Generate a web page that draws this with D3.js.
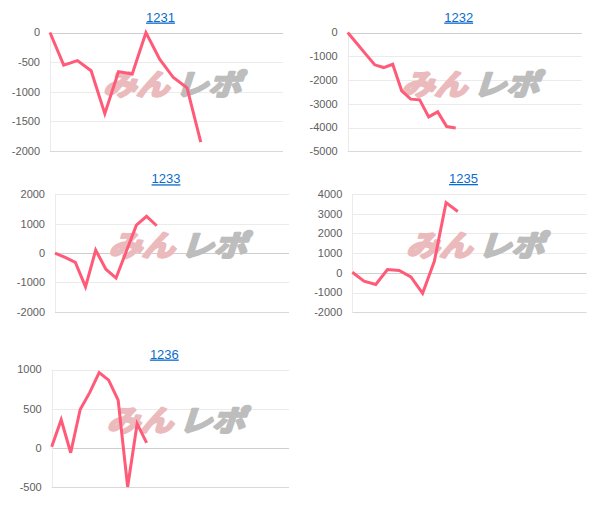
<!DOCTYPE html>
<html>
<head>
<meta charset="utf-8">
<script src="https://cdn.jsdelivr.net/npm/d3@7"></script>
<style>
  body { margin: 0; background: #fff; }
  svg { display: block; }
</style>
</head>
<body>
<div id="chart"></div>
<script>
//chart data, one small array per machine
var names = ["1231", "1232", "1233", "1235", "1236"];

var v1231 = [0, -550, -475, -645, -1370, -660, -700, 0, -450, -760, -935, -1850];
var v1232 = [0, -455, -910, -1360, -1475, -1335, -2455, -2805, -2835, -3550, -3340, -3960, -4015];
var v1233 = [0, -150, -320, -1150, 100, -550, -850, 50, 950, 1250, 930];
var v1235 = [30, -420, -590, 170, 120, -200, -1040, 590, 3560, 3110];
var v1236 = [15, 360, -60, 490, 705, 960, 865, 610, -495, 310, 65];

//number of x labels each chart has (only the first few have values)
var slotCounts = [18, 27, 24, 21, 26];

//y axis ranges and tick labels
var yDomains = [[-2000, 0], [-5000, 0], [-2000, 2000], [-2000, 4000], [-500, 1000]];
var yTicks = [
    [0, -500, -1000, -1500, -2000],
    [0, -1000, -2000, -3000, -4000, -5000],
    [2000, 1000, 0, -1000, -2000],
    [4000, 3000, 2000, 1000, 0, -1000, -2000],
    [1000, 500, 0, -500]
];

var series = [v1231, v1232, v1233, v1235, v1236];

//plot areas of the five panels (left, right, top, bottom)
var boxes = [
    [50, 283, 32.5, 151],
    [347.7, 581.7, 32.5, 151.3],
    [55, 289, 194.3, 311.8],
    [352.3, 586.7, 194, 312.3],
    [51.7, 289, 369.5, 487.3]
];

var width = 615,
    height = 523;

var svg = d3.select("#chart").append("svg")
    .attr("width", width)
    .attr("height", height);

names.forEach(function (name, k) {
    var b = boxes[k];
    var g = svg.append("g").attr("class", "panel");

    var x = d3.scalePoint()
        .domain(d3.range(slotCounts[k]))
        .range([b[0], b[1]]);

    var y = d3.scaleLinear()
        .domain(yDomains[k])
        .range([b[3], b[2]]);

    //horizontal grid lines
    g.append("g")
        .selectAll("line")
        .data(yTicks[k])
        .enter().append("line")
        .attr("x1", b[0])
        .attr("x2", b[1])
        .attr("y1", function (d) { return Math.round(y(d)) + 0.5; })
        .attr("y2", function (d) { return Math.round(y(d)) + 0.5; })
        .attr("stroke", function (d) {
            if (d === 0) return "#cfcfcf";
            if (d === yDomains[k][0]) return "#d9d9d9";
            return "#ebebeb";
        })
        .attr("stroke-width", 1);

    //left axis line
    g.append("line")
        .attr("x1", Math.round(b[0]) + 0.5)
        .attr("x2", Math.round(b[0]) + 0.5)
        .attr("y1", b[2])
        .attr("y2", b[3])
        .attr("stroke", "#ebebeb");

    //tick labels
    g.append("g")
        .selectAll("text")
        .data(yTicks[k])
        .enter().append("text")
        .attr("x", b[0] - 10)
        .attr("y", function (d) { return y(d); })
        .attr("dy", "0.35em")
        .attr("text-anchor", "end")
        .style("font-family", "'Liberation Sans', Arial, sans-serif")
        .style("font-size", "11px")
        .style("fill", "#606060")
        .text(function (d) { return d; });

    //watermark logo
    var cx = (b[0] + b[1]) / 2 + 9,
        cy = (b[2] + b[3]) / 2 - 8;
    var wm = g.append("g")
        .attr("transform", "translate(" + cx + "," + cy + ") skewX(-18)");
    wm.append("text")
        .attr("x", -69)
        .attr("y", 11)
        .attr("textLength", 66)
        .attr("lengthAdjust", "spacingAndGlyphs")
        .style("font-family", "'Noto Sans CJK JP', sans-serif")
        .style("font-weight", "bold")
        .style("font-size", "29px")
        .style("fill", "#ebbabd")
        .style("stroke", "#ebbabd")
        .style("stroke-width", 2.5)
        .style("stroke-linejoin", "round")
        .text("みん");
    wm.append("text")
        .attr("x", 3)
        .attr("y", 11)
        .attr("textLength", 66)
        .attr("lengthAdjust", "spacingAndGlyphs")
        .style("font-family", "'Noto Sans CJK JP', sans-serif")
        .style("font-weight", "bold")
        .style("font-size", "29px")
        .style("fill", "#bdbdbd")
        .style("stroke", "#bdbdbd")
        .style("stroke-width", 2.5)
        .style("stroke-linejoin", "round")
        .text("レポ");

    //the line itself
    var line = d3.line()
        .x(function (d, i) { return x(i); })
        .y(function (d) { return y(d); });

    g.append("path")
        .datum(series[k])
        .attr("d", line)
        .attr("fill", "none")
        .attr("stroke", "#ff5a78")
        .attr("stroke-width", 3)
        .attr("stroke-linejoin", "miter");

    //title link
    g.append("text")
        .attr("x", (b[0] + b[1]) / 2 - 6)
        .attr("y", b[2] - 11)
        .attr("text-anchor", "middle")
        .style("font-family", "'Liberation Sans', Arial, sans-serif")
        .style("font-size", "13px")
        .style("fill", "#0b6bcb")
        .style("text-decoration", "underline")
        .text(name);
});
</script>
</body>
</html>
